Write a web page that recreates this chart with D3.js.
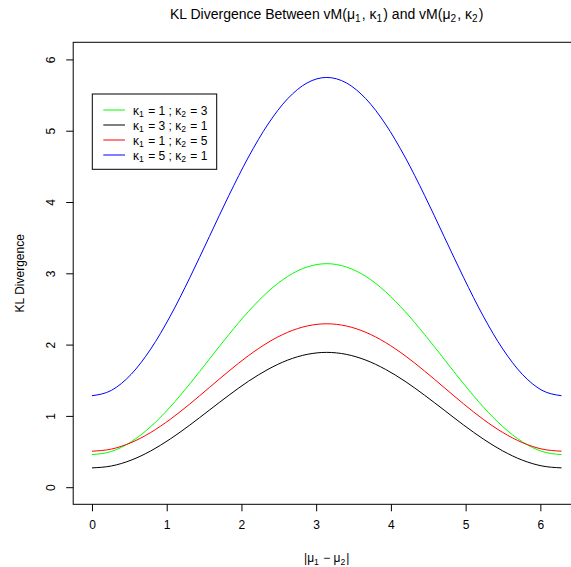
<!DOCTYPE html>
<html>
<head>
<meta charset="utf-8">
<script src="https://cdn.jsdelivr.net/npm/d3@7"></script>
<style>
  body { margin: 0; background: #fff; }
  svg { font-family: "Liberation Sans", Arial, Helvetica, sans-serif; }
  .axis path { display: none; }
  .axis line { stroke: #000; }
  .axis text { fill: #000; font-size: 12px; }
</style>
</head>
<body>
<div id="chart"></div>
<script>
// angle difference |mu1 - mu2|, radians
const deltaMu = [0, 0.2618, 0.5236, 0.7854, 1.0472, 1.3090, 1.5708, 1.8326, 2.0944, 2.3562, 2.6180, 2.8798, 3.1416,
  3.4034, 3.6652, 3.9270, 4.1888, 4.4506, 4.7124, 4.9742, 5.2360, 5.4978, 5.7596, 6.0214, 6.2832];

const klGreen = [0.457, 0.502, 0.636, 0.849, 1.126, 1.449, 1.796, 2.142, 2.465, 2.743, 2.956, 3.089, 3.135,
  3.089, 2.956, 2.743, 2.465, 2.142, 1.796, 1.449, 1.126, 0.849, 0.636, 0.502, 0.457];
const klBlack = [0.271, 0.298, 0.379, 0.508, 0.676, 0.871, 1.081, 1.290, 1.486, 1.653, 1.782, 1.863, 1.891,
  1.863, 1.782, 1.653, 1.486, 1.290, 1.081, 0.871, 0.676, 0.508, 0.379, 0.298, 0.271];
const klRed = [0.505, 0.535, 0.625, 0.767, 0.952, 1.167, 1.398, 1.629, 1.845, 2.030, 2.172, 2.261, 2.292,
  2.261, 2.172, 2.030, 1.845, 1.629, 1.398, 1.167, 0.952, 0.767, 0.625, 0.535, 0.505];
const klBlue = [1.283, 1.359, 1.582, 1.937, 2.399, 2.938, 3.515, 4.093, 4.631, 5.093, 5.448, 5.671, 5.747,
  5.671, 5.448, 5.093, 4.631, 4.093, 3.515, 2.938, 2.399, 1.937, 1.582, 1.359, 1.283];

const legendK1 = [1, 3, 1, 5];
const legendK2 = [3, 1, 5, 1];
const seriesColors = ['#00ff00', '#000000', '#ff0000', '#0000ff'];

const xTicks = [0, 1, 2, 3, 4, 5, 6];
const yTicks = [0, 1, 2, 3, 4, 5, 6];

const width = 571;
const height = 567;
const box = { left: 73.2, right: 580.3, top: 42.3, bottom: 504.3 };

const svg = d3
  .select('#chart')
  .append('svg')
  .attr('width', width)
  .attr('height', height);

// R style 4% padding around xlim c(0, 2*pi) and ylim c(0, 6)
const x = d3.scaleLinear().domain([-0.2513, 6.5345]).range([box.left, box.right]);
const y = d3.scaleLinear().domain([-0.24, 6.24]).range([box.bottom, box.top]);

// small helper for text with subscripts
function richText(sel, parts, size) {
  parts.forEach(p => {
    if (p.sub) {
      sel.append('tspan').attr('font-size', size * 0.72).attr('dy', size * 0.22).text(p.t);
      sel.append('tspan').attr('dy', -size * 0.22).text('\u200a');
    } else {
      sel.append('tspan').text(p.t);
    }
  });
}

const series = [klGreen, klBlack, klRed, klBlue];

const line = d3
  .line()
  .x((d, i) => x(deltaMu[i]))
  .y(d => y(d))
  .curve(d3.curveMonotoneX);

svg
  .append('g')
  .selectAll('path.kl')
  .data(series)
  .join('path')
  .attr('class', 'kl')
  .attr('fill', 'none')
  .attr('stroke', (d, i) => seriesColors[i])
  .attr('stroke-width', 1)
  .attr('d', d => line(d));

// plot box
svg
  .append('rect')
  .attr('x', box.left)
  .attr('y', box.top)
  .attr('width', box.right - box.left)
  .attr('height', box.bottom - box.top)
  .attr('fill', 'none')
  .attr('stroke', '#000')
  .attr('stroke-width', 1);

// x axis
svg
  .append('g')
  .attr('class', 'x axis')
  .attr('transform', `translate(0,${box.bottom})`)
  .call(d3.axisBottom(x).tickValues(xTicks).tickSize(7).tickPadding(9).tickFormat(d3.format('d')));

// y axis, labels turned like R's las = 0
svg
  .append('g')
  .attr('class', 'y axis')
  .attr('transform', `translate(${box.left},0)`)
  .call(d3.axisLeft(y).tickValues(yTicks).tickSize(7).tickFormat(d3.format('d')))
  .call(g =>
    g
      .selectAll('.tick text')
      .attr('x', null)
      .attr('dy', null)
      .attr('text-anchor', 'middle')
      .attr('transform', 'translate(-18,0) rotate(-90)')
  );

// title
const title = svg
  .append('text')
  .attr('x', (box.left + box.right) / 2)
  .attr('y', 19)
  .attr('text-anchor', 'middle')
  .attr('font-size', 14);
richText(title, [
  { t: 'KL Divergence Between vM(\u03bc' }, { t: '1', sub: true }, { t: ', \u03ba' }, { t: '1', sub: true },
  { t: ') and vM(\u03bc' }, { t: '2', sub: true }, { t: ', \u03ba' }, { t: '2', sub: true }, { t: ')' },
], 14);

// axis titles
const xLabel = svg
  .append('text')
  .attr('x', (box.left + box.right) / 2)
  .attr('y', 562)
  .attr('text-anchor', 'middle')
  .attr('font-size', 12);
richText(xLabel, [{ t: '|\u03bc' }, { t: '1', sub: true }, { t: ' \u2212 \u03bc' }, { t: '2', sub: true }, { t: '|' }], 12);

svg
  .append('text')
  .attr('transform', `translate(24,${(box.top + box.bottom) / 2}) rotate(-90)`)
  .attr('text-anchor', 'middle')
  .attr('font-size', 12)
  .text('KL Divergence');

// legend
const legend = svg.append('g').attr('class', 'legend');
legend
  .append('rect')
  .attr('x', 92.3)
  .attr('y', 94)
  .attr('width', 124.4)
  .attr('height', 75.3)
  .attr('fill', '#fff')
  .attr('stroke', '#000');

legendK1.forEach((k1, i) => {
  const ly = 110 + i * 15;
  legend
    .append('line')
    .attr('x1', 103.3)
    .attr('x2', 125)
    .attr('y1', ly)
    .attr('y2', ly)
    .attr('stroke', seriesColors[i]);
  const t = legend
    .append('text')
    .attr('x', 133)
    .attr('y', ly + 4.5)
    .attr('font-size', 12);
  richText(t, [
    { t: '\u03ba' }, { t: '1', sub: true }, { t: ` = ${k1} ; \u03ba` }, { t: '2', sub: true }, { t: ` = ${legendK2[i]}` },
  ], 12);
});
</script>
</body>
</html>
